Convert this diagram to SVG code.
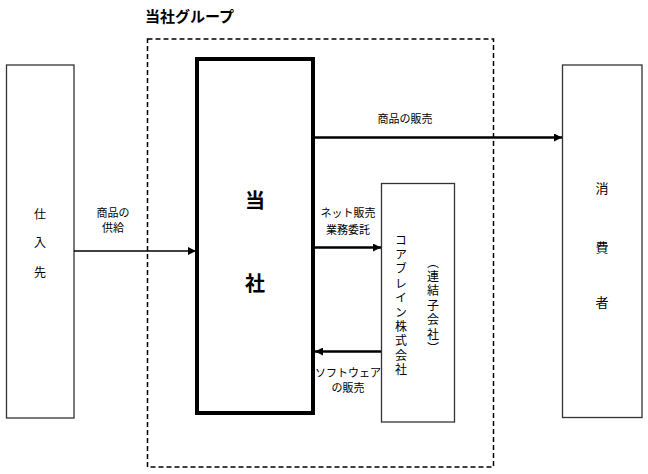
<svg xmlns="http://www.w3.org/2000/svg" width="648" height="474" viewBox="0 0 648 474">
<style>
text{font-family:"Noto Sans CJK JP","Liberation Sans",sans-serif;fill:#000}
.box{fill:#fff;stroke:#333;stroke-width:1.3}
.lbl{font-size:11px;text-anchor:middle}
.v{font-size:12px;writing-mode:vertical-rl;letter-spacing:2.4px}
</style>
<defs>
<marker id="ah" viewBox="0 0 10 10" refX="10" refY="5" markerWidth="3.2" markerHeight="3.2" orient="auto" markerUnits="strokeWidth"><path d="M0,0 L10,5 L0,10 z" fill="#000"/></marker>
<marker id="ahs" viewBox="0 0 10 10" refX="10" refY="5" markerWidth="5.5" markerHeight="5.5" orient="auto" markerUnits="strokeWidth"><path d="M0,0 L10,5 L0,10 z" fill="#000"/></marker>
</defs>
<rect width="648" height="474" fill="#fff"/>
<g id="group">
<rect x="147.5" y="39" width="346" height="428" fill="none" stroke="#000" stroke-width="1.5" stroke-dasharray="5,3"/>
<text x="145" y="22" font-size="15" font-weight="bold">当社グループ</text>
</g>
<g id="shiiresaki">
<rect class="box" x="6.5" y="65" width="67.5" height="353"/>
<text x="40" y="219" font-size="12" text-anchor="middle">仕</text>
<text x="40" y="247" font-size="12" text-anchor="middle">入</text>
<text x="40" y="277" font-size="12" text-anchor="middle">先</text>
</g>
<g id="tousha">
<rect x="197" y="59" width="116" height="354" fill="#fff" stroke="#000" stroke-width="4"/>
<text x="255" y="208" font-size="20" font-weight="bold" text-anchor="middle">当</text>
<text x="255" y="291" font-size="20" font-weight="bold" text-anchor="middle">社</text>
</g>
<g id="coabrain">
<rect class="box" x="381.5" y="183.5" width="73" height="238.5"/>
<text class="v" x="401" y="234">コアブレイン株式会社</text>
<text class="v" x="433" y="256">（連結子会社）</text>
</g>
<g id="consumer">
<rect class="box" x="562.5" y="65" width="79.5" height="352.5"/>
<text x="602" y="193" font-size="13" text-anchor="middle">消</text>
<text x="602" y="252" font-size="13" text-anchor="middle">費</text>
<text x="602" y="307" font-size="13" text-anchor="middle">者</text>
</g>
<g id="connectors" fill="none" stroke="#000">
<line x1="74" y1="251" x2="196" y2="251" stroke-width="1.5" marker-end="url(#ahs)"/>
<line x1="315" y1="137.5" x2="562" y2="137.5" stroke-width="2.5" marker-end="url(#ah)"/>
<line x1="315" y1="247.5" x2="381" y2="247.5" stroke-width="2.5" marker-end="url(#ah)"/>
<line x1="381" y1="351.5" x2="315" y2="351.5" stroke-width="2.5" marker-end="url(#ah)"/>
</g>
<g id="labels">
<text class="lbl" x="405" y="123">商品の販売</text>
<text class="lbl" x="113" y="217">商品の</text>
<text class="lbl" x="113" y="232">供給</text>
<text class="lbl" x="348" y="217">ネット販売</text>
<text class="lbl" x="348" y="234">業務委託</text>
<text class="lbl" x="348" y="377">ソフトウェア</text>
<text class="lbl" x="348" y="392">の販売</text>
</g>
</svg>
